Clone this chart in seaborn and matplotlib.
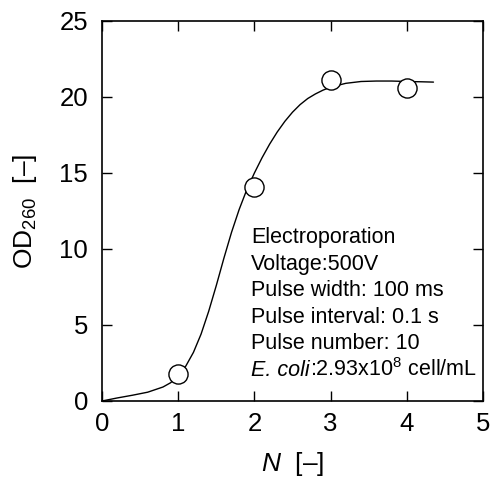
import matplotlib
matplotlib.use("Agg")
import matplotlib.pyplot as plt
import seaborn as sns
import pandas as pd

# measured data points
n_points = [1, 2, 3, 4]
od_points = [1.8, 14.1, 21.1, 20.6]

# fitted curve
curve_n = [0, 0.2, 0.4, 0.6, 0.8, 0.9, 1.0, 1.1, 1.2, 1.3, 1.4, 1.5, 1.6, 1.7, 1.8,
           1.9, 2.0, 2.1, 2.2, 2.3, 2.4, 2.5, 2.6, 2.7, 2.8, 2.9, 3.0, 3.2, 3.4,
           3.6, 3.8, 4.0, 4.2, 4.35]
curve_od = [0, 0.2, 0.38, 0.58, 0.92, 1.2, 1.65, 2.3, 3.2, 4.4, 5.9, 7.6, 9.4, 11.1, 12.6,
            13.9, 15.0, 16.0, 16.9, 17.7, 18.4, 19.0, 19.5, 19.9, 20.2, 20.45, 20.65, 20.9, 21.02,
            21.05, 21.05, 21.02, 21.0, 20.98]

info_lines = [
    "Electroporation",
    "Voltage:500V",
    "Pulse width: 100 ms",
    "Pulse interval: 0.1 s",
    "Pulse number: 10",
]
organism_label = "E. coli"
organism_conc = r":2.93x10$^{\mathregular{8}}$ cell/mL"

sns.set_theme(style="ticks")
plt.rcParams["font.family"] = ["Liberation Sans", "DejaVu Sans"]
plt.rcParams["mathtext.fontset"] = "custom"
plt.rcParams["mathtext.rm"] = "Liberation Sans"
plt.rcParams["mathtext.it"] = "Liberation Sans:italic"
plt.rcParams["mathtext.bf"] = "Liberation Sans:bold"
for k in ["text.color", "axes.labelcolor", "xtick.color", "ytick.color", "axes.edgecolor"]:
    plt.rcParams[k] = "black"

fig = plt.figure(figsize=(4.91, 4.78), dpi=100)
ax = fig.add_axes([102 / 491, 1 - 401 / 478, (483 - 102) / 491, (401 - 21) / 478])

curve_df = pd.DataFrame({"N": curve_n, "OD": curve_od})
pts_df = pd.DataFrame({"N": n_points, "OD": od_points})

sns.lineplot(data=curve_df, x="N", y="OD", ax=ax, color="black", linewidth=1.0,
             estimator=None, sort=False)
sns.scatterplot(data=pts_df, x="N", y="OD", ax=ax, s=190, facecolor="white",
                edgecolor="black", linewidth=1.0, zorder=5)

ax.set_xlim(0, 5)
ax.set_ylim(0, 25)
ax.set_xticks([0, 1, 2, 3, 4, 5])
ax.set_yticks([0, 5, 10, 15, 20, 25])
ax.tick_params(direction="in", length=7, width=1.0, labelsize=18.5, top=True, right=True,
               colors="black")
ax.tick_params(axis="x", pad=8)
ax.tick_params(axis="y", pad=10)
for s in ax.spines.values():
    s.set_linewidth(1.2)
    s.set_color("black")

ax.set_xlabel(r"$N$  [–]", fontsize=19, labelpad=10)
ax.set_ylabel(r"OD$_{260}$  [–]", fontsize=19, labelpad=15)

fs = 15.5
y0 = 238
for i, line in enumerate(info_lines):
    ypix = y0 + i * 26.4
    fig.text(251 / 491, 1 - ypix / 478, line, fontsize=fs, ha="left", va="center",
             color="black")

ypix = y0 + len(info_lines) * 26.4
t1 = fig.text(251 / 491, 1 - ypix / 478, organism_label, fontsize=fs, ha="left",
              va="center", style="italic", color="black")
ax.annotate(organism_conc, xy=(1, 0), xycoords=t1, ha="left", va="bottom",
            fontsize=fs, color="black", annotation_clip=False)

fig.savefig("out.png", dpi=100)
